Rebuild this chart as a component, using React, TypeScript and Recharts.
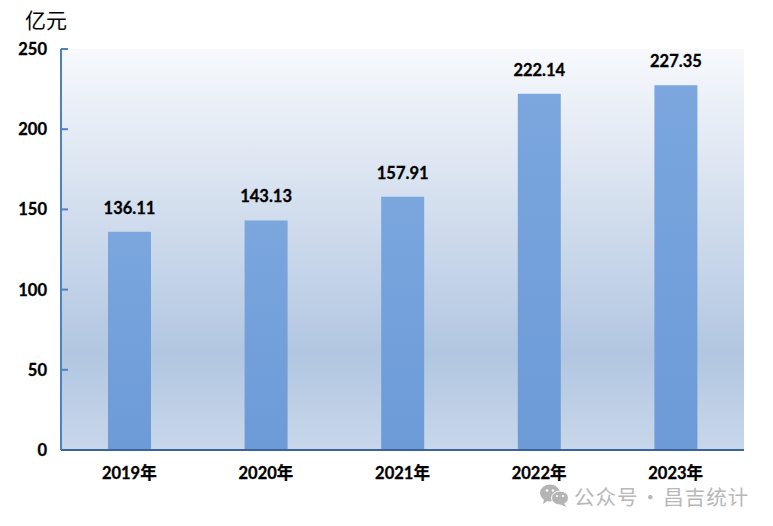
import React from "react";
import { BarChart, Bar, XAxis, YAxis, CartesianGrid, LabelList } from "recharts";

const years = ["2019年", "2020年", "2021年", "2022年", "2023年"];
const revenue = [136.11, 143.13, 157.91, 222.14, 227.35];
const yTicks = [0, 50, 100, 150, 200, 250];

const data = years.map((year, i) => ({ year, revenue: revenue[i] }));

const LABEL_FONT = "Lato, 'Noto Sans CJK SC', sans-serif";
const AXIS_COLOR = "#4f81bd";

function YTick({ x, y, payload }: any) {
  return (
    <g>
      {payload.value !== 0 && (
        <line x1={x} x2={x + 7} y1={y} y2={y} stroke={AXIS_COLOR} strokeWidth={2} />
      )}
      <text x={x - 14} y={y + 6} textAnchor="end" fontFamily={LABEL_FONT} fontWeight={700} fontSize={16.5} fill="#000" stroke="#000" strokeWidth={0.3}>
        {payload.value}
      </text>
    </g>
  );
}

function WatermarkIcon() {
  return (
    <svg width={30} height={24} style={{ position: "absolute", left: 539, top: 483 }}>
      <ellipse cx={11} cy={10} rx={10} ry={8.5} fill="#b4b4b4" />
      <path d="M5 16 L4 21 L10 17 Z" fill="#b4b4b4" />
      <ellipse cx={21} cy={15} rx={8.5} ry={7} fill="#b4b4b4" stroke="#fff" strokeWidth={1} />
      <path d="M25 20 L27 24 L21 21 Z" fill="#b4b4b4" />
      <circle cx={8} cy={7.5} r={1.3} fill="#fff" />
      <circle cx={14} cy={7.5} r={1.3} fill="#fff" />
      <circle cx={18} cy={13} r={1.1} fill="#fff" />
      <circle cx={24} cy={13} r={1.1} fill="#fff" />
    </svg>
  );
}

export default function App() {
  return (
    <div style={{ position: "absolute", left: 0, top: 0, width: 773, height: 526, background: "#fff" }}>
      <BarChart
        width={773}
        height={526}
        data={data}
        margin={{ top: 49, right: 29, bottom: 46, left: 0 }}
        barSize={43}
      >
        <defs>
          <linearGradient id="plotBg" x1="0" y1="0" x2="0" y2="1">
            <stop offset="0%" stopColor="#f7f9fc" />
            <stop offset="76%" stopColor="#b2c6e1" />
            <stop offset="100%" stopColor="#c8d7ea" />
          </linearGradient>
          <linearGradient id="barFill" x1="0" y1="0" x2="0" y2="1">
            <stop offset="0%" stopColor="#7ba6de" />
            <stop offset="100%" stopColor="#6c9bd8" />
          </linearGradient>
        </defs>
        <CartesianGrid horizontal={false} vertical={false} fill="url(#plotBg)" />
        <XAxis
          dataKey="year"
          height={30}
          axisLine={{ stroke: "#3a659b", strokeWidth: 2 }}
          tickLine={false}
          tickMargin={11}
          tick={{ fontFamily: LABEL_FONT, fontWeight: 700, fontSize: 16.5, fill: "#000", stroke: "#000", strokeWidth: 0.3 }}
        />
        <YAxis
          width={61}
          domain={[0, 250]}
          ticks={yTicks}
          interval={0}
          axisLine={{ stroke: AXIS_COLOR, strokeWidth: 2 }}
          tickLine={false}
          tickSize={0}
          tickMargin={0}
          tick={YTick}
        />
        <Bar dataKey="revenue" fill="url(#barFill)" isAnimationActive={false}>
          <LabelList
            dataKey="revenue"
            position="top"
            offset={18}
            fontFamily={LABEL_FONT}
            fontWeight={700}
            fontSize={16.5}
            fill="#000"
            stroke="#000"
            strokeWidth={0.3}
          />
        </Bar>
      </BarChart>
      <div style={{ position: "absolute", left: 25, top: 6, fontFamily: "'Noto Sans CJK SC'", fontSize: 21, color: "#000", lineHeight: "26px" }}>
        亿元
      </div>
      <WatermarkIcon />
      <div style={{ position: "absolute", left: 574, top: 483, fontFamily: "'Noto Sans CJK SC'", fontSize: 20.5, letterSpacing: 1, wordSpacing: -4, color: "#b8b8b8", lineHeight: "26px", whiteSpace: "nowrap" }}>
        公众号 · 昌吉统计
      </div>
    </div>
  );
}
